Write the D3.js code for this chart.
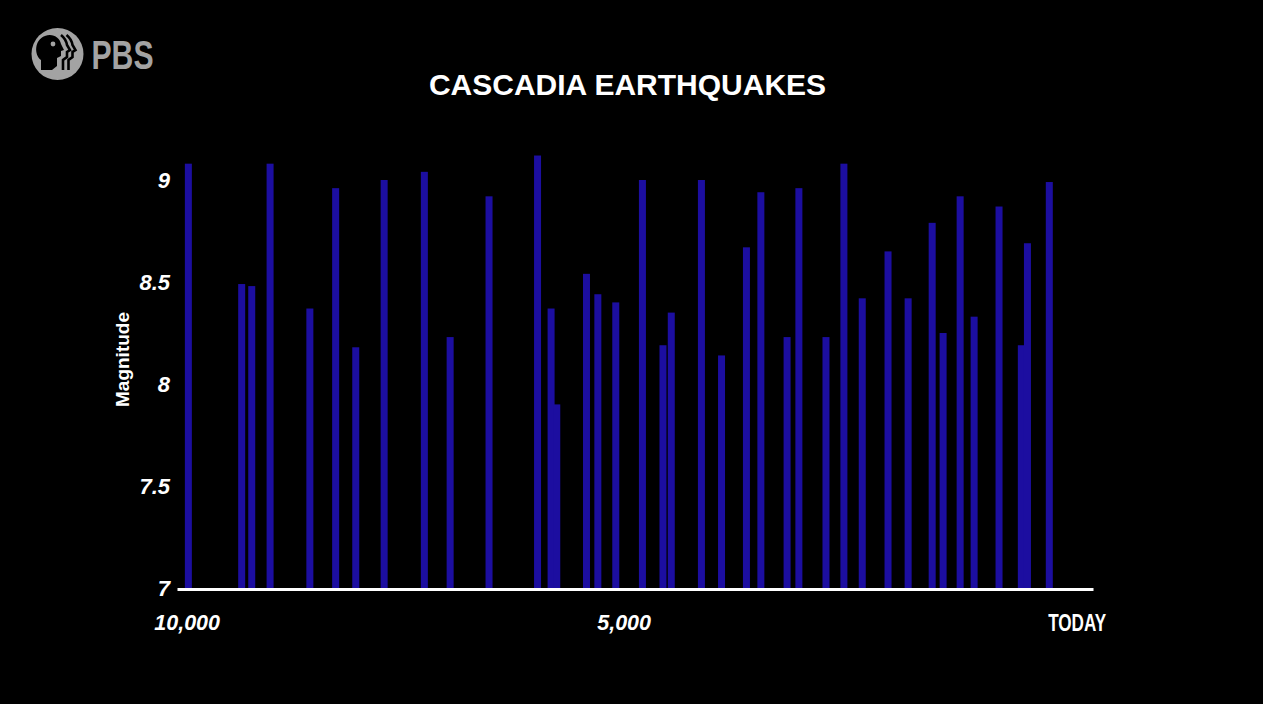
<!DOCTYPE html>
<html>
<head>
<meta charset="utf-8">
<script src="https://cdn.jsdelivr.net/npm/d3@7"></script>
<style>
  html, body { margin: 0; padding: 0; background: #000; }
  svg { display: block; }
</style>
</head>
<body>
<svg id="chart"></svg>
<script>
// years before present for each quake, and its magnitude
var yearsAgo = [9980, 9370, 9255, 9045, 8590, 8295, 8065, 7740, 7280, 6985,
	6540, 5985, 5830, 5765, 5425, 5295, 5090, 4785, 4550, 4455,
	4110, 3880, 3595, 3430, 3130, 2995, 2685, 2480, 2270, 1975,
	1745, 1470, 1345, 1150, 990, 705, 450, 380, 130];
var magnitudes = [9.08, 8.49, 8.48, 9.08, 8.37, 8.96, 8.18, 9.00, 9.04, 8.23,
	8.92, 9.12, 8.37, 7.90, 8.54, 8.44, 8.40, 9.00, 8.19, 8.35,
	9.00, 8.14, 8.67, 8.94, 8.23, 8.96, 8.23, 9.08, 8.42, 8.65,
	8.42, 8.79, 8.25, 8.92, 8.33, 8.87, 8.19, 8.69, 8.99];
var yTicks = [7, 7.5, 8, 8.5, 9];
var xTicks = [10000, 5000, 0];
var xTickLabels = ['10,000', '5,000', 'TODAY'];

var width = 1263;
var height = 704;
var barColor = '#1c0ea0';

var svg = d3.select('#chart')
	.attr('width', width)
	.attr('height', height);

svg.append('rect')
	.attr('width', width)
	.attr('height', height)
	.attr('fill', '#000');

// scales
var x = d3.scaleLinear()
	.domain([10110, -370])
	.range([177, 1093]);
var y = d3.scaleLinear()
	.domain([7, 9])
	.range([588, 180]);

// bars
svg.append('g')
	.selectAll('rect')
	.data(yearsAgo)
	.enter()
	.append('rect')
	.attr('x', function(d) { return x(d) - 3.5; })
	.attr('width', 7)
	.attr('y', function(d, i) { return y(magnitudes[i]); })
	.attr('height', function(d, i) { return y(7) - y(magnitudes[i]); })
	.attr('fill', barColor);

// y axis
var yAxis = svg.append('g')
	.attr('transform', 'translate(177,0)')
	.call(d3.axisLeft(y).tickValues(yTicks).tickSize(0).tickPadding(7).tickFormat(function(d) { return String(d); }));
yAxis.select('.domain').remove();
yAxis.selectAll('text')
	.attr('fill', '#fff')
	.style('font-family', '"Liberation Sans", Arial, sans-serif')
	.style('font-size', '22px')
	.style('font-weight', 'bold')
	.style('font-style', 'italic');

// x axis
var xAxis = svg.append('g')
	.attr('transform', 'translate(0,589)')
	.call(d3.axisBottom(x).tickValues(xTicks).tickSize(0).tickSizeOuter(0).tickPadding(26)
		.tickFormat(function(d, i) { return xTickLabels[i]; }));
xAxis.select('.domain')
	.attr('stroke', '#fff')
	.attr('stroke-width', 3);
xAxis.selectAll('text')
	.attr('fill', '#fff')
	.style('font-family', '"Liberation Sans", Arial, sans-serif')
	.style('font-size', '21.5px')
	.style('font-weight', 'bold')
	.style('font-style', 'italic');
xAxis.selectAll('.tick')
	.filter(function(d) { return d === 0; })
	.select('text')
	.attr('dx', 16)
	.attr('textLength', 58)
	.attr('lengthAdjust', 'spacingAndGlyphs')
	.style('font-family', '"Liberation Sans Narrow", "Liberation Sans", sans-serif')
	.style('font-size', '23px')
	.style('font-style', 'normal');

// y axis title
svg.append('text')
	.attr('transform', 'translate(129,359.5) rotate(-90)')
	.attr('text-anchor', 'middle')
	.attr('fill', '#fff')
	.style('font-family', '"Liberation Sans", Arial, sans-serif')
	.style('font-size', '19px')
	.style('font-weight', 'bold')
	.text('Magnitude');

// chart title
svg.append('text')
	.attr('x', 627.5)
	.attr('y', 95)
	.attr('text-anchor', 'middle')
	.attr('fill', '#fff')
	.style('font-family', '"Liberation Sans", Arial, sans-serif')
	.style('font-size', '30px')
	.style('font-weight', 'bold')
	.text('CASCADIA EARTHQUAKES');

// PBS logo
var logo = svg.append('g');
logo.append('circle')
	.attr('cx', 57.5)
	.attr('cy', 54)
	.attr('r', 26)
	.attr('fill', '#a3a3a3');
logo.append('path')
	.attr('d', 'M41,70 L41,60 C34,55 34,40 45,36 C53,33 60,38 61,44 L64,50 L61,51 L61,56 L57,58 L57,66 L52,70 Z')
	.attr('fill', '#000');
logo.append('circle')
	.attr('cx', 53)
	.attr('cy', 44)
	.attr('r', 2.4)
	.attr('fill', '#a3a3a3');
[0, 5.5].forEach(function(o) {
	logo.append('path')
		.attr('d', 'M' + (61 + o) + ',35 Q' + (66 + o) + ',39 ' + (67 + o) + ',45 L' + (70 + o) + ',50 L' + (67 + o) + ',52 L' + (67 + o) + ',57 L' + (63 + o) + ',60 L' + (63 + o) + ',70')
		.attr('fill', 'none')
		.attr('stroke', '#000')
		.attr('stroke-width', 2.6);
});
logo.append('text')
	.attr('x', 91.5)
	.attr('y', 68.5)
	.attr('fill', '#a3a3a3')
	.attr('textLength', 62)
	.attr('lengthAdjust', 'spacingAndGlyphs')
	.style('font-family', '"Liberation Sans", Arial, sans-serif')
	.style('font-size', '40px')
	.style('font-weight', 'bold')
	.text('PBS');
</script>
</body>
</html>
